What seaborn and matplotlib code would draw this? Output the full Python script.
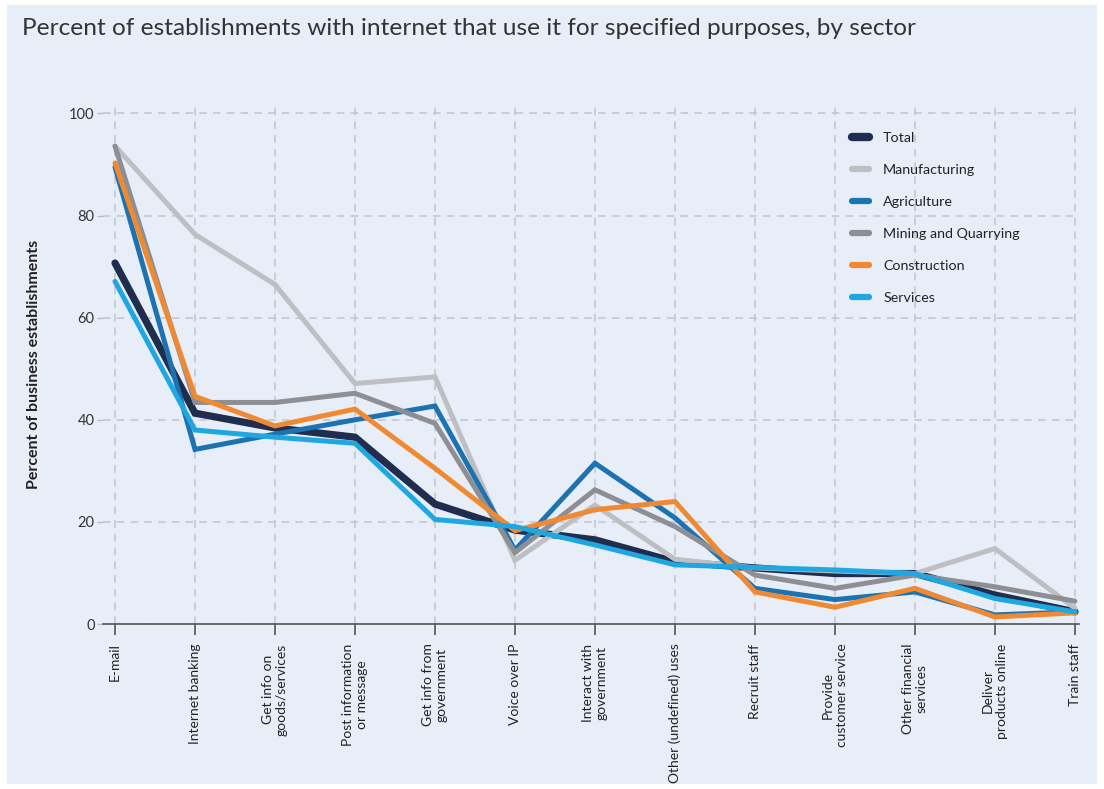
import matplotlib
matplotlib.use("Agg")
import matplotlib.pyplot as plt
from matplotlib.lines import Line2D
from matplotlib.patches import Rectangle
import seaborn as sns
import pandas as pd

# Internet uses (x categories)
purposes = [
    "E-mail",
    "Internet banking",
    "Get info on\ngoods/services",
    "Post information\nor message",
    "Get info from\ngovernment",
    "Voice over IP",
    "Interact with\ngovernment",
    "Other (undefined) uses",
    "Recruit staff",
    "Provide\ncustomer service",
    "Other financial\nservices",
    "Deliver\nproducts online",
    "Train staff",
]

# Percent of establishments by sector
total = [70.7, 41.3, 38.4, 36.6, 23.5, 18.4, 16.5, 12.2, 11.0, 9.9, 9.9, 5.7, 2.4]
manufacturing = [93.6, 76.3, 66.5, 47.1, 48.4, 12.5, 23.3, 12.7, 11.0, 10.4, 9.9, 14.8, 3.1]
agriculture = [89.5, 34.2, 37.2, 40.0, 42.7, 14.5, 31.5, 20.8, 7.0, 4.8, 6.3, 1.8, 2.4]
mining = [93.6, 43.4, 43.4, 45.2, 39.3, 14.0, 26.3, 19.1, 9.6, 7.0, 9.6, 7.3, 4.5]
construction = [90.3, 44.6, 38.8, 42.1, 30.5, 18.3, 22.4, 24.0, 6.3, 3.3, 7.0, 1.4, 2.2]
services = [67.1, 38.0, 36.6, 35.4, 20.5, 19.1, 15.5, 11.6, 11.1, 10.6, 9.9, 5.0, 2.4]

sectors = ["Total", "Manufacturing", "Agriculture", "Mining and Quarrying",
           "Construction", "Services"]
series = [total, manufacturing, agriculture, mining, construction, services]
colors = ["#1f2d4f", "#bdbfc3", "#1d72b2", "#8d8f94", "#f08a32", "#1ea7e0"]
widths = [5.2, 3.6, 3.6, 3.6, 3.6, 3.6]

rows = []
for name, vals in zip(sectors, series):
    for i, v in enumerate(vals):
        rows.append({"sector": name, "pos": i, "value": v})
df = pd.DataFrame(rows)

bg = "#e8eef8"
sns.set_theme(style="whitegrid")
plt.rcParams["font.family"] = ["Lato", "DejaVu Sans"]

fig = plt.figure(figsize=(11.04, 7.89), dpi=100, facecolor="white")
fig.patches.append(Rectangle((0.006, 0.006), 0.988, 0.988, transform=fig.transFigure,
                             facecolor=bg, edgecolor="none", zorder=-10))
ax = fig.add_axes([0.0933, 0.209, 0.884, 0.657])
ax.set_zorder(1)
ax.set_facecolor(bg)

for name, col, lw in zip(sectors, colors, widths):
    sub = df[df["sector"] == name]
    sns.lineplot(data=sub, x="pos", y="value", ax=ax, color=col, linewidth=lw,
                 sort=False, legend=False, solid_capstyle="round",
                 solid_joinstyle="miter")

ax.set_xlim(-0.15, 12.05)
ax.set_ylim(0, 101.5)
ax.set_yticks([0, 20, 40, 60, 80, 100])
ax.set_xticks(range(len(purposes)))
ax.set_xticklabels(purposes, rotation=90, ha="center", va="top",
                   multialignment="center", fontsize=10, color="#222222")
ax.tick_params(axis="y", labelsize=10.5, labelcolor="#333333", length=4,
               color="#b8b8c0", width=1, pad=2, left=True)
ax.tick_params(axis="x", length=8, color="#555555", width=1.2, pad=6, bottom=True)

ax.grid(True, color="#c3c4cc", linestyle=(0, (5, 4)), linewidth=1.1)
for side in ["top", "right", "left"]:
    ax.spines[side].set_visible(False)
ax.spines["bottom"].set_color("#555555")
ax.spines["bottom"].set_linewidth(1.2)

ax.set_xlabel("")
ax.set_ylabel("Percent of business establishments", fontsize=11.5,
              fontweight="bold", color="#222222")
ax.yaxis.set_label_coords(-0.064, 0.5)

handles = [Line2D([0], [0], color=c, linewidth=(6 if i == 0 else 4.5),
                  solid_capstyle="round") for i, c in enumerate(colors)]
leg = ax.legend(handles, sectors, loc="upper left", bbox_to_anchor=(0.754, 0.975),
                frameon=False, fontsize=10.3, handlelength=1.2, handletextpad=1.0,
                labelspacing=1.4)
for t in leg.get_texts():
    t.set_color("#222222")

fig.text(0.02, 0.964, "Percent of establishments with internet that use it for specified purposes, by sector",
         fontsize=17.6, color="#333333", va="center", ha="left")

fig.savefig("out.png", dpi=100, facecolor=fig.get_facecolor())
